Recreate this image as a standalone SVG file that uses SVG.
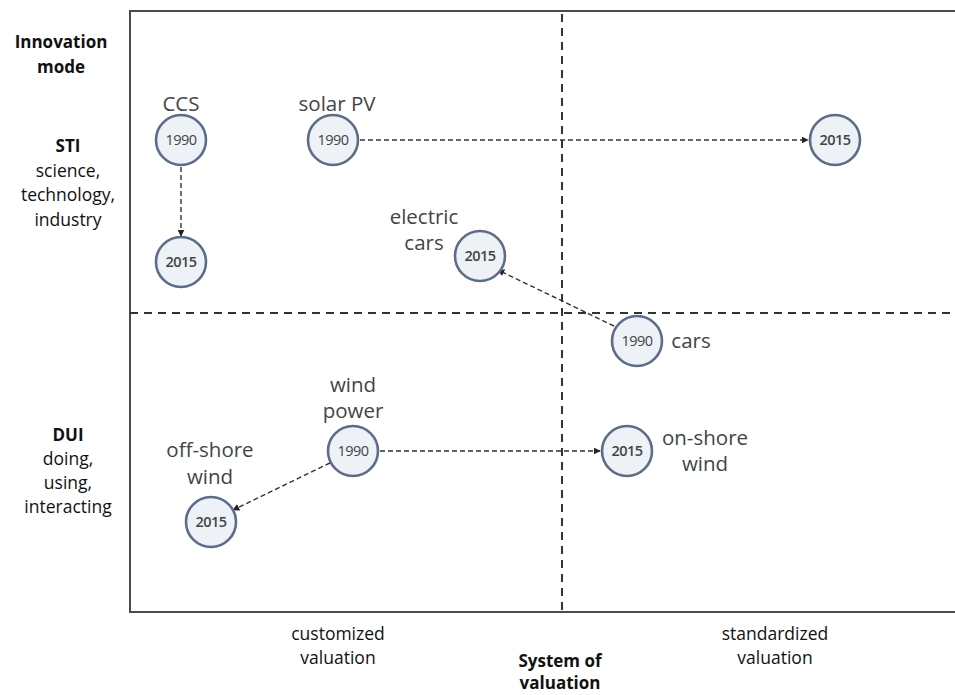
<svg xmlns="http://www.w3.org/2000/svg" width="955" height="695" viewBox="0 0 955 695">
<defs>
<style>
.frame{fill:none;stroke:#4a4a4a;stroke-width:2}
.quad{fill:none;stroke:#333;stroke-width:2;stroke-dasharray:8,6}
.conn{fill:none;stroke:#333;stroke-width:1.4;stroke-dasharray:5,3}
.node circle{fill:#eef1f6;stroke:#5b6d8a;stroke-width:2.6}
.yr{font-family:"Open Sans","Liberation Sans",sans-serif;font-size:14.5px;fill:#444;text-anchor:middle;letter-spacing:-0.5px}
.b{font-weight:600}
.lab{font-family:"Open Sans","Liberation Sans",sans-serif;font-size:20.5px;fill:#444;text-anchor:middle}
.ax{font-family:"Open Sans","Liberation Sans",sans-serif;font-size:17.5px;fill:#111;text-anchor:middle}
.axb{font-family:"Open Sans","Liberation Sans",sans-serif;font-size:17px;font-weight:bold;fill:#111;text-anchor:middle}
</style>
<marker id="ah" viewBox="0 0 10 10" refX="9" refY="5" markerWidth="7" markerHeight="7" orient="auto" markerUnits="userSpaceOnUse">
<path d="M0,0 L10,5 L0,10 z" fill="#222"/>
</marker>
</defs>
<rect width="955" height="695" fill="#fff"/>
<g id="frame">
<path class="frame" d="M956,11 H130 V612 H956"/>
<line class="quad" x1="562" y1="14" x2="562" y2="612"/>
<line class="quad" x1="130" y1="313" x2="955" y2="313"/>
</g>
<g id="axis-labels">
<text class="axb" x="61" y="48">Innovation</text>
<text class="axb" x="61" y="73">mode</text>
<text class="axb" x="68" y="152">STI</text>
<text class="ax" x="68" y="177">science,</text>
<text class="ax" x="68" y="201">technology,</text>
<text class="ax" x="68" y="226">industry</text>
<text class="axb" x="68" y="441">DUI</text>
<text class="ax" x="68" y="465">doing,</text>
<text class="ax" x="68" y="489">using,</text>
<text class="ax" x="68" y="513">interacting</text>
<text class="ax" x="338" y="640">customized</text>
<text class="ax" x="338" y="664">valuation</text>
<text class="ax" x="775" y="640">standardized</text>
<text class="ax" x="775" y="664">valuation</text>
<text class="axb" x="560" y="667">System of</text>
<text class="axb" x="560" y="689">valuation</text>
</g>
<g id="connectors">
<line class="conn" x1="181" y1="167" x2="181" y2="236" marker-end="url(#ah)"/>
<line class="conn" x1="360" y1="140" x2="808" y2="140" marker-end="url(#ah)"/>
<line class="conn" x1="614" y1="326" x2="498" y2="270" marker-end="url(#ah)"/>
<line class="conn" x1="380" y1="451" x2="600" y2="451" marker-end="url(#ah)"/>
<line class="conn" x1="330" y1="463" x2="233" y2="510" marker-end="url(#ah)"/>
</g>
<g id="ccs-1990" class="node"><circle cx="181" cy="140" r="25"/><text class="yr" x="181" y="145">1990</text></g>
<g id="ccs-2015" class="node"><circle cx="181" cy="262" r="25"/><text class="yr b" x="181" y="267">2015</text></g>
<text class="lab" x="181" y="111">CCS</text>
<g id="solar-1990" class="node"><circle cx="333" cy="140" r="25"/><text class="yr" x="333" y="145">1990</text></g>
<text class="lab" x="337" y="111">solar PV</text>
<g id="solar-2015" class="node"><circle cx="835" cy="140" r="25"/><text class="yr b" x="835" y="145">2015</text></g>
<g id="ecars-2015" class="node"><circle cx="480" cy="256" r="25"/><text class="yr b" x="480" y="261">2015</text></g>
<text class="lab" x="424" y="224">electric</text>
<text class="lab" x="424" y="250">cars</text>
<g id="cars-1990" class="node"><circle cx="637" cy="341" r="25"/><text class="yr" x="637" y="346">1990</text></g>
<text class="lab" x="691" y="348">cars</text>
<g id="wind-1990" class="node"><circle cx="353" cy="451" r="25"/><text class="yr" x="353" y="456">1990</text></g>
<text class="lab" x="353" y="392">wind</text>
<text class="lab" x="353" y="418">power</text>
<g id="offshore-2015" class="node"><circle cx="211" cy="522" r="25"/><text class="yr b" x="211" y="527">2015</text></g>
<text class="lab" x="210" y="457">off-shore</text>
<text class="lab" x="210" y="484">wind</text>
<g id="onshore-2015" class="node"><circle cx="627" cy="451" r="25"/><text class="yr b" x="627" y="456">2015</text></g>
<text class="lab" x="705" y="445">on-shore</text>
<text class="lab" x="705" y="471">wind</text>
</svg>
